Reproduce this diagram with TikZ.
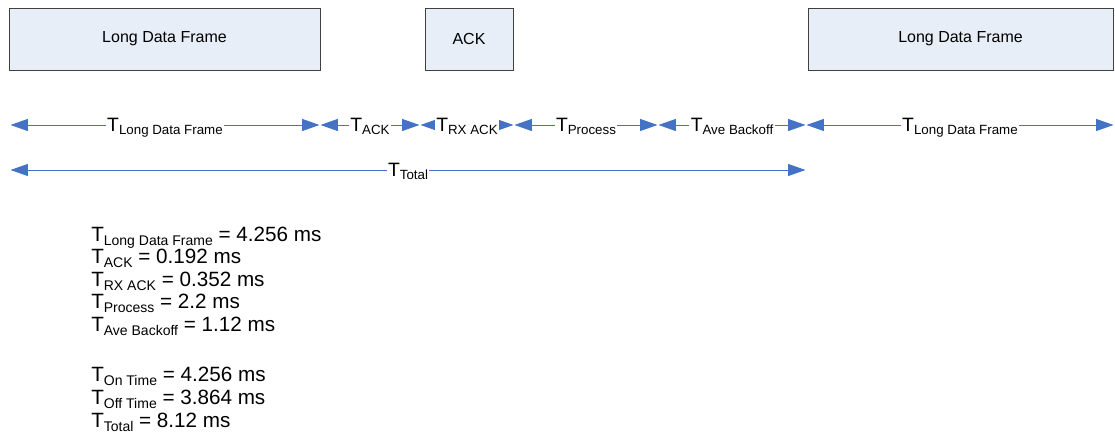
\documentclass[tikz,border=0pt]{standalone}
\usepackage{fontspec}
\setmainfont{Liberation Sans}
\usetikzlibrary{arrows.meta}

\definecolor{arrowblue}{RGB}{68,114,196}
\definecolor{framefill}{RGB}{232,238,247}
\definecolor{frameline}{RGB}{64,64,64}

\newcommand{\Tsub}[1]{T\raisebox{-2.5pt}{\fontsize{10}{12}\selectfont #1}}
\newcommand{\Tlist}[1]{T\raisebox{-2.5pt}{\fontsize{10.5}{12}\selectfont #1}}

\begin{document}
\begin{tikzpicture}[x=0.75pt,y=-0.75pt,
  frame/.style={draw=frameline, fill=framefill, line width=0.6pt, inner sep=0pt, font=\fontsize{12}{14}\selectfont},
  span/.style={draw=arrowblue, line width=0.7pt, shorten <=0.4pt, shorten >=0.4pt,
    {Triangle[length=13pt,width=9pt]}-{Triangle[length=13pt,width=9pt]}},
  lbl/.style={fill=white, inner sep=1pt, anchor=base, yshift=-5pt, font=\fontsize{14.5}{17}\selectfont},
  item/.style={anchor=base west, inner sep=0pt, font=\fontsize{15.5}{18}\selectfont}]
  \useasboundingbox (0,0) rectangle (1115,441);

  % frames on the air
  \node [frame, minimum width=233.25pt, minimum height=46.5pt] (data1) at (164.5,39) {Long Data Frame};
  \node [frame, minimum width=66pt, minimum height=46.5pt] (ack) at (469,39) {ACK};
  \node [frame, minimum width=228.75pt, minimum height=46.5pt] (data2) at (960.5,39) {Long Data Frame};

  % time marks
  \coordinate (p0) at (10,125);
  \coordinate (p1) at (320,125);
  \coordinate (p2) at (420,125);
  \coordinate (p3) at (514,125);
  \coordinate (p4) at (658,125);
  \coordinate (p5) at (806,125);
  \coordinate (p6) at (1114,125);
  \coordinate (q0) at (10,170);
  \coordinate (q1) at (806,170);

  \draw [span] (p0) -- (p1) node [lbl, midway] (tdata1) {\Tsub{Long Data Frame}};
  \draw [span] (p1) -- (p2) node [lbl, midway] (tack) {\Tsub{ACK}};
  \draw [span] (p2) -- (p3) node [lbl, midway] (trx) {\Tsub{RX ACK}};
  \draw [span] (p3) -- (p4) node [lbl, midway] (tproc) {\Tsub{Process}};
  \draw [span] (p4) -- (p5) node [lbl, midway] (tback) {\Tsub{Ave Backoff}};
  \draw [span] (p5) -- (p6) node [lbl, midway] (tdata2) {\Tsub{Long Data Frame}};
  \draw [span] (q0) -- (q1) node [lbl, midway] (ttotal) {\Tsub{Total}};

  % values
  \node [item] (l1) at (91,242) {\Tlist{Long Data Frame} = 4.256 ms};
  \node [item] (l2) at (91,264) {\Tlist{ACK} = 0.192 ms};
  \node [item] (l3) at (91,287) {\Tlist{RX ACK} = 0.352 ms};
  \node [item] (l4) at (91,309) {\Tlist{Process} = 2.2 ms};
  \node [item] (l5) at (91,332) {\Tlist{Ave Backoff} = 1.12 ms};
  \node [item] (l6) at (91,382) {\Tlist{On Time} = 4.256 ms};
  \node [item] (l7) at (91,405) {\Tlist{Off Time} = 3.864 ms};
  \node [item] (l8) at (91,428) {\Tlist{Total} = 8.12 ms};
\end{tikzpicture}
\end{document}
